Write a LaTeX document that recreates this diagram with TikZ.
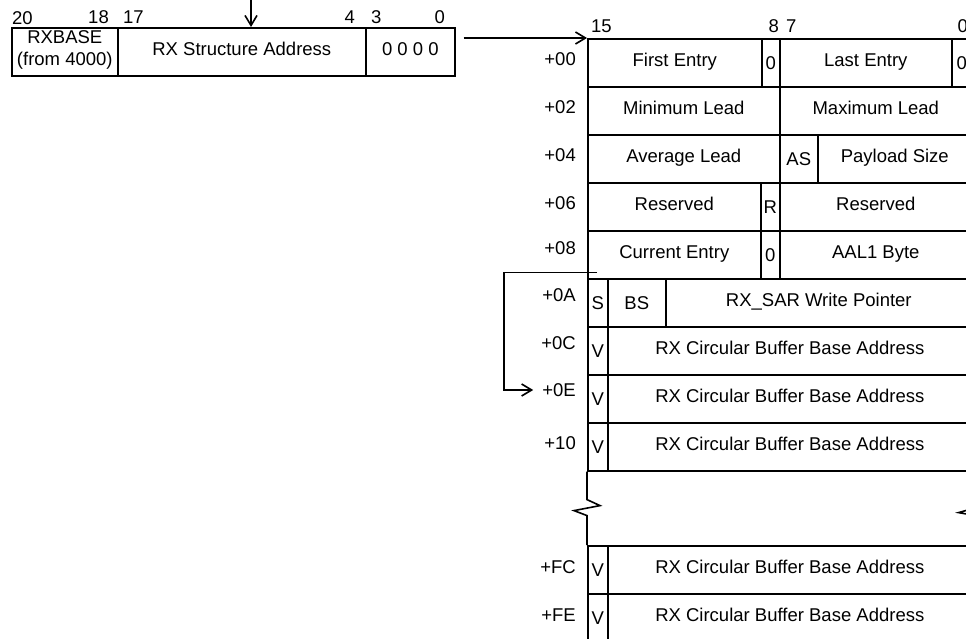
\documentclass[tikz,border=0pt]{standalone}
\usepackage{fontspec}
\setmainfont{Liberation Sans}
\usetikzlibrary{arrows.meta,positioning}
\newcommand{\regfont}{\fontsize{18.5pt}{22pt}\selectfont}

\begin{document}
\begin{tikzpicture}[x=1pt, y=-1pt,
  fld/.style={draw, line width=1.6pt, inner sep=0pt, anchor=north west,
    minimum height=48pt, align=center, font=\regfont},
  wfld/.style={fld, text height=13pt, text depth=6pt},
  lbl/.style={inner sep=0pt, font=\regfont},
  arr/.style={line width=1.6pt,
    -{Straight Barb[length=10pt,width=12pt,line width=1.6pt]}}]
\useasboundingbox (0,0) rectangle (966,639);
\clip (0,0) rectangle (966,639);

% address register
\node[fld, minimum width=106pt, text height=34pt, text depth=6pt] (base)
  at (11,27) {RXBASE\\(from 4000)};
\node[wfld, minimum width=248pt] (addr) at (117,27) {RX Structure Address};
\node[wfld, minimum width=89pt] (nib) at (365,27) {0 0 0 0};
\node[lbl, anchor=west] (b20) at (12,18) {20};
\node[lbl, anchor=east] (b18) at (109,17) {18};
\node[lbl, anchor=west] (b17) at (123,17) {17};
\node[lbl, anchor=east] (b4) at (355,17) {4};
\node[lbl, anchor=west] (b3) at (371,17) {3};
\node[lbl, anchor=east] (b0) at (445,17) {0};

% RX structure
\node[wfld, minimum width=174pt] (first) at (587,38) {First Entry};
\node[fld, minimum width=18pt] (fz) at (761,38) {0};
\node[wfld, minimum width=172pt] (last) at (779,38) {Last Entry};
\node[fld, minimum width=20pt] (lz) at (951,38) {0};
\node[wfld, minimum width=192pt] (minl) at (587,86) {Minimum Lead};
\node[wfld, minimum width=192pt] (maxl) at (779,86) {Maximum Lead};
\node[wfld, minimum width=192pt] (avgl) at (587,134) {Average Lead};
\node[fld, minimum width=38pt] (as) at (779,134) {AS};
\node[wfld, minimum width=154pt] (psize) at (817,134) {Payload Size};
\node[wfld, minimum width=173pt] (resa) at (587,182) {Reserved};
\node[fld, minimum width=19pt] (rbit) at (760,182) {R};
\node[wfld, minimum width=192pt] (resb) at (779,182) {Reserved};
\node[wfld, minimum width=173pt] (cur) at (587,230) {Current Entry};
\node[fld, minimum width=19pt] (cz) at (760,230) {0};
\node[wfld, minimum width=192pt] (aal) at (779,230) {AAL1 Byte};
\node[fld, minimum width=20pt] (sbit) at (587,278) {S};
\node[fld, minimum width=58pt] (bs) at (607,278) {BS};
\node[wfld, minimum width=306pt] (wptr) at (665,278) {RX\_SAR Write Pointer};
\foreach \n/\y in {0C/326, 0E/374, 10/422, FC/545, FE/593} {
  \node[fld, minimum width=20pt] (v\n) at (587,\y) {V};
  \node[wfld, minimum width=364pt] (buf\n) at (607,\y)
    {RX Circular Buffer Base Address};
}
\foreach \n/\y in {00/59, 02/107, 04/155, 06/203, 08/248, 0A/295,
    0C/343, 0E/390, 10/443, FC/567, FE/615}
  \node[lbl, anchor=east] (o\n) at (576,\y) {+\n};
\node[lbl, anchor=west] (s15) at (591,26) {15};
\node[lbl, anchor=east] (s8) at (779,26) {8};
\node[lbl, anchor=west] (s7) at (786,26) {7};
\node[lbl, anchor=east] (s0) at (968,26) {0};

% break
\draw[line width=1.6pt] (v10.south west) -- ++(0,28) -- ++(13,6)
  -- ++(-26,5) -- ++(13,5) -- (vFC.north west);
\draw[line width=1.6pt] (buf10.south east) -- ++(0,37) -- ++(-14,4)
  -- ++(28,5) -- ++(-14,4) -- (bufFC.north east);

% pointers
\coordinate (src) at (251,-2);
\draw[arr] (src) -- (src |- addr.north);
\draw[arr] ([xshift=8pt]nib.east |- first.north west) -- (first.north west);
\draw[arr] ([shift={(10pt,7pt)}]cur.south west) -- ++(-93,0)
  |- ([xshift=-9pt]o0E.west);
\end{tikzpicture}
\end{document}
